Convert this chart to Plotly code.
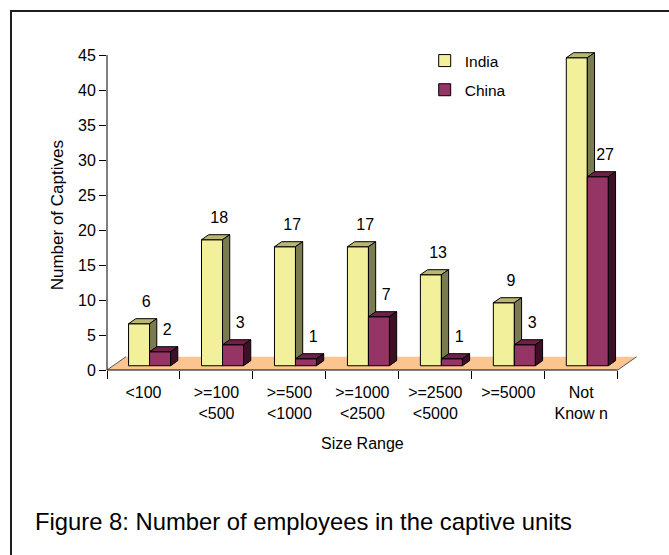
import plotly.graph_objects as go

# ---- data -------------------------------------------------------------
size_line1 = ["<100", ">=100", ">=500", ">=1000", ">=2500", ">=5000", "Not"]
size_line2 = ["", "<500", "<1000", "<2500", "<5000", "", "Know n"]
india = [6, 18, 17, 17, 13, 9, 44]
china = [2, 3, 1, 7, 1, 3, 27]
y_ticks = [0, 5, 10, 15, 20, 25, 30, 35, 40, 45]

# ---- layout geometry (pixels) -----------------------------------------
W_PX, H_PX = 669, 555
M_L, M_R, M_T, M_B = 107, 24, 40, 185
PLOT_W = W_PX - M_L - M_R
PLOT_H = H_PX - M_T - M_B
X_PER_CAT = 72.96          # px per category
Y_PER_UNIT = 7.0           # px per captive
X_MAX = PLOT_W / X_PER_CAT
Y_MAX = PLOT_H / Y_PER_UNIT

FONT = "Liberation Sans, Arial, sans-serif"


def px_x(px):
    return (px - M_L) / PLOT_W


def px_y(py):
    return (H_PX - M_B - py) / PLOT_H


# ---- pseudo-3D projection ---------------------------------------------
DEPTH_DX = 19.0 / X_PER_CAT    # floor depth projected on x (data units)
DEPTH_DY = 13.3 / Y_PER_UNIT   # floor depth projected on y (data units)
Z_FRONT, Z_BACK = 0.32, 0.70   # bar front/back faces as fraction of depth
BAR_W = 0.288                  # bar width in category units

COLORS = {
    "India": ("#F3F09C", "#B7B771", "#7A7B51"),   # front, top, side
    "China": ("#953565", "#6E2148", "#3E1028"),
}


def faces(values, slot):
    fx, fy = Z_FRONT * DEPTH_DX, Z_FRONT * DEPTH_DY
    bx, by = Z_BACK * DEPTH_DX, Z_BACK * DEPTH_DY
    front = ([], [])
    top = ([], [])
    side = ([], [])

    def add(poly, pts):
        for x, y in pts + [pts[0]]:
            poly[0].append(x)
            poly[1].append(y)
        poly[0].append(None)
        poly[1].append(None)

    for i, v in enumerate(values):
        xl = i + 0.5 - BAR_W + slot * BAR_W
        xr = xl + BAR_W
        add(front, [(xl + fx, fy), (xr + fx, fy), (xr + fx, v + fy), (xl + fx, v + fy)])
        add(top, [(xl + fx, v + fy), (xr + fx, v + fy), (xr + bx, v + by), (xl + bx, v + by)])
        add(side, [(xr + fx, fy), (xr + bx, by), (xr + bx, v + by), (xr + fx, v + fy)])
    return front, top, side


fig = go.Figure()

# floor
n_cat = len(india)
fig.add_trace(go.Scatter(
    x=[0, n_cat, n_cat + DEPTH_DX, DEPTH_DX, 0],
    y=[0, 0, DEPTH_DY, DEPTH_DY, 0],
    mode="lines", fill="toself", fillcolor="#FAC590",
    line=dict(width=0), hoverinfo="skip", showlegend=False,
))
fig.add_trace(go.Scatter(
    x=[0, DEPTH_DX, None, n_cat, n_cat + DEPTH_DX],
    y=[0, DEPTH_DY, None, 0, DEPTH_DY],
    mode="lines", line=dict(color="#555555", width=1),
    hoverinfo="skip", showlegend=False,
))

# bars (each face as a filled polygon so the draw order is front-to-back correct)
for slot, (name, values) in enumerate([("India", india), ("China", china)]):
    front, top, side = faces(values, slot)
    for poly, color in zip((front, top, side), COLORS[name]):
        fig.add_trace(go.Scatter(
            x=poly[0], y=poly[1], mode="lines", fill="toself",
            fillcolor=color, line=dict(color="black", width=1),
            hoverinfo="skip", showlegend=False,
        ))

# value labels above each bar
for slot, values in enumerate([india, china]):
    xs = [i + 0.5 - BAR_W / 2 + slot * BAR_W + Z_BACK * DEPTH_DX for i in range(n_cat)]
    ys = [v + Z_BACK * DEPTH_DY + 2.2 for v in values]
    fig.add_trace(go.Scatter(
        x=xs, y=ys, mode="text", text=[str(v) for v in values],
        textposition="middle center", textfont=dict(size=16, color="black"),
        cliponaxis=False, hoverinfo="skip", showlegend=False,
    ))

# legend entries
for name in ("India", "China"):
    fig.add_trace(go.Bar(
        x=[None], y=[None], name=name, legendgroup=name,
        marker=dict(color=COLORS[name][0], line=dict(color="black", width=1)),
    ))

# axis lines
fig.add_shape(type="line", xref="x", yref="paper", x0=0, x1=n_cat, y0=0, y1=0,
              line=dict(color="black", width=1))
fig.add_shape(type="line", xref="paper", yref="y", x0=0, x1=0, y0=0, y1=max(y_ticks),
              line=dict(color="black", width=1))

# axis titles, centred on the drawn axis extents
fig.add_annotation(
    text="Size Range", xref="x", yref="paper", x=n_cat / 2, y=px_y(443),
    xanchor="center", yanchor="middle", showarrow=False,
    font=dict(size=16, color="black", family=FONT),
)
fig.add_annotation(
    text="Number of Captives", xref="paper", yref="y", x=px_x(57), y=max(y_ticks) / 2 - 0.4,
    xanchor="center", yanchor="middle", textangle=-90, showarrow=False,
    font=dict(size=17, color="black", family=FONT),
)

# outer frame
fig.add_shape(type="rect", xref="paper", yref="paper",
              x0=px_x(11), x1=px_x(720), y0=px_y(600), y1=px_y(11),
              line=dict(color="#1E1E1E", width=2), fillcolor="rgba(0,0,0,0)")

# caption
fig.add_annotation(
    text="Figure 8: Number of employees in the captive units",
    xref="paper", yref="paper", x=px_x(32.5), y=px_y(521.7),
    xanchor="left", yanchor="middle", showarrow=False,
    font=dict(size=23.8, color="black", family=FONT),
)

tick_text = [a + ("<br>" + b if b else "") for a, b in zip(size_line1, size_line2)]

fig.update_layout(
    width=W_PX, height=H_PX,
    margin=dict(l=M_L, r=M_R, t=M_T, b=M_B, autoexpand=False),
    paper_bgcolor="white", plot_bgcolor="white",
    font=dict(family=FONT, size=16, color="black"),
    showlegend=True,
    legend=dict(
        x=px_x(424.7), y=px_y(44), xanchor="left", yanchor="top",
        bgcolor="rgba(0,0,0,0)", font=dict(size=15.5),
        tracegroupgap=6, traceorder="grouped",
    ),
    xaxis=dict(
        range=[0, X_MAX], showgrid=False, zeroline=False, showline=False,
        tickmode="array", tickvals=[i + 0.5 for i in range(n_cat)], ticktext=tick_text,
        ticks="outside", ticklen=8, tickcolor="rgba(0,0,0,0)",
        minor=dict(tickmode="array", tickvals=list(range(n_cat + 1)), ticks="outside",
                   ticklen=8, tickwidth=1, tickcolor="black", showgrid=False),
        tickfont=dict(size=16),
        fixedrange=True,
    ),
    yaxis=dict(
        range=[0, Y_MAX], showgrid=False, zeroline=False, showline=False,
        tickmode="array", tickvals=y_ticks, ticks="outside", ticklen=7,
        tickcolor="black", tickwidth=1, tickfont=dict(size=16),
        fixedrange=True,
    ),
)

fig.write_html("out.html")
